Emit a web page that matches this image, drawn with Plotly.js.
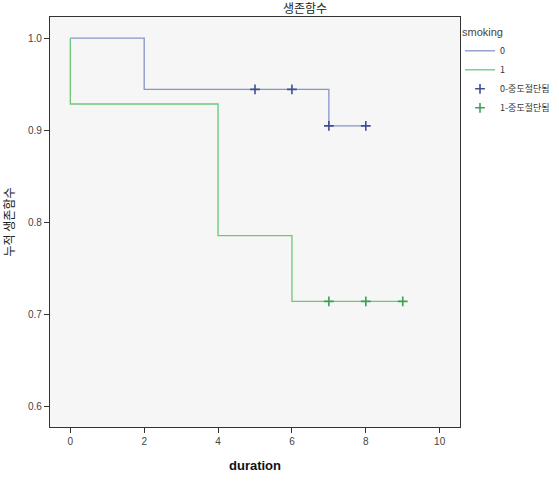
<!DOCTYPE html>
<html><head><meta charset="utf-8">
<script src="https://cdn.plot.ly/plotly-3.0.1.min.js"></script>
<style>html,body{margin:0;padding:0;background:#fff;}#c{width:559px;height:491px;}</style>
</head><body><div id="c"></div>
<script>
const stepX0 = [0, 2, 7, 8];
const stepY0 = [1.0, 0.9444, 0.9048, 0.9048];
const stepX1 = [0, 0, 4, 6, 9];
const stepY1 = [1.0, 0.9286, 0.7857, 0.7143, 0.7143];
const censX0 = [5, 6, 7, 8];
const censY0 = [0.9444, 0.9444, 0.9048, 0.9048];
const censX1 = [7, 8, 9];
const censY1 = [0.7143, 0.7143, 0.7143];
const legendNames = ['0', '1', '0-중도절단됨', '1-중도절단됨'];

const blueLine = '#8595c8', greenLine = '#6cc77a';
const blueMark = '#3e4f94', greenMark = '#3f9f52';
const font = 'Liberation Sans, Arial, Noto Sans CJK KR, sans-serif';

const traces = [
  {x: stepX0, y: stepY0, mode: 'lines', line: {shape: 'hv', color: blueLine, width: 1.3}, name: legendNames[0]},
  {x: stepX1, y: stepY1, mode: 'lines', line: {shape: 'hv', color: greenLine, width: 1.3}, name: legendNames[1]},
  {x: censX0, y: censY0, mode: 'markers', marker: {symbol: 'cross-thin', size: 7, line: {color: blueMark, width: 1.6}}, name: legendNames[2]},
  {x: censX1, y: censY1, mode: 'markers', marker: {symbol: 'cross-thin', size: 7, line: {color: greenMark, width: 1.6}}, name: legendNames[3]}
];

const layout = {
  width: 559, height: 491,
  margin: {l: 50, r: 91, t: 17, b: 64},
  paper_bgcolor: '#ffffff', plot_bgcolor: '#f6f6f6',
  font: {family: font, size: 10, color: '#444'},
  title: {text: '생존함수', x: 305/559, xanchor: 'center', y: 1 - 9/491, yref: 'container', yanchor: 'middle', font: {family: 'Noto Sans CJK KR, sans-serif', size: 12, color: '#222'}},
  xaxis: {range: [-0.55, 10.55], dtick: 2, tick0: 0, showgrid: false, zeroline: false,
    showline: true, linecolor: '#333', linewidth: 1.2, mirror: true,
    ticks: 'outside', ticklen: 5, tickcolor: '#333', tickfont: {size: 10, color: '#444'},
    title: {text: 'duration', font: {family: font, size: 13, color: '#111', weight: 'bold'}, standoff: 14}},
  yaxis: {range: [0.578, 1.023], dtick: 0.1, tick0: 0.6, tickformat: '.1f', showgrid: false, zeroline: false,
    showline: true, linecolor: '#333', linewidth: 1.2, mirror: true,
    ticks: 'outside', ticklen: 5, tickcolor: '#333', tickfont: {size: 10, color: '#444'},
    title: {text: '누적 생존함수', font: {family: 'Noto Sans CJK KR, sans-serif', size: 12, color: '#222'}, standoff: 12}},
  showlegend: true,
  legend: {xref: 'container', yref: 'container', x: 460/559, xanchor: 'left', y: 1 - 22/491, yanchor: 'top', bgcolor: 'rgba(0,0,0,0)',
    font: {family: 'Noto Sans CJK KR, sans-serif', size: 9, color: '#333'},
    title: {text: 'smoking', font: {family: font, size: 11, color: '#444'}},
    itemwidth: 30, tracegroupgap: 0}
};
Plotly.newPlot('c', traces, layout, {displayModeBar: false, staticPlot: true});
</script></body></html>
